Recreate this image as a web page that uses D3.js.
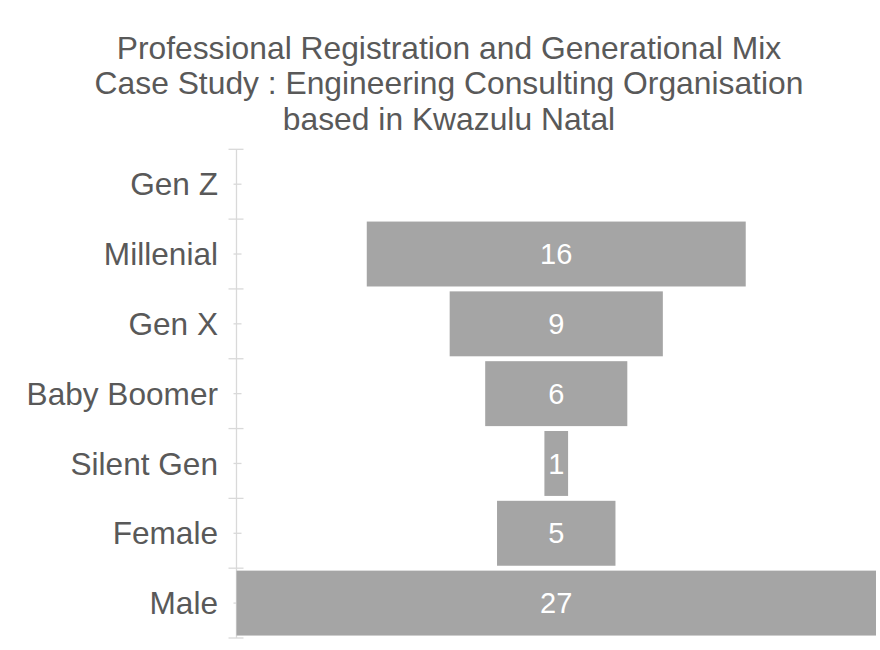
<!DOCTYPE html>
<html>
<head>
<meta charset="utf-8">
<script src="https://cdn.jsdelivr.net/npm/d3@7"></script>
<style>
  html, body { margin: 0; padding: 0; background: #ffffff; }
  svg { display: block; font-family: "Liberation Sans", Arial, sans-serif; }
</style>
</head>
<body>
<svg id="chart" width="880" height="650"></svg>
<script>
const titleLines = [
  "Professional Registration and Generational Mix",
  "Case Study : Engineering Consulting Organisation",
  "based in Kwazulu Natal"
];
const categories = ["Gen Z", "Millenial", "Gen X", "Baby Boomer", "Silent Gen", "Female", "Male"];
const values = [0, 16, 9, 6, 1, 5, 27];

const svg = d3.select("#chart");
const W = 880, H = 650;
svg.append("rect").attr("width", W).attr("height", H).attr("fill", "#ffffff");

const axisX = 236.5;
const plotTop = 149.3, plotBottom = 638;
const maxVal = d3.max(values);
const plotRight = 876;
const centerX = (axisX + plotRight) / 2;

const y = d3.scaleBand().domain(categories).range([plotTop, plotBottom]).paddingInner(0.07).paddingOuter(0.035);
const yOuter = d3.scaleBand().domain(categories).range([plotTop, plotBottom]);
const w = d3.scaleLinear().domain([0, maxVal]).range([0, plotRight - axisX]);

// Title
svg.append("g").selectAll("text").data(titleLines).join("text")
  .attr("x", 449).attr("y", (d, i) => 58.5 + i * 35.5)
  .attr("text-anchor", "middle")
  .attr("fill", "#595959")
  .attr("font-size", "31.8px")
  .text(d => d);

// Axis line & ticks
const axisG = svg.append("g");
axisG.append("line").attr("x1", axisX).attr("x2", axisX)
  .attr("y1", plotTop).attr("y2", plotBottom)
  .attr("stroke", "#d9d9d9").attr("stroke-width", 1.3);
const boundaries = categories.map(c => yOuter(c)).concat([plotBottom]);
axisG.selectAll("line.major").data(boundaries).join("line").attr("class", "major")
  .attr("x1", axisX - 8).attr("x2", axisX + 7)
  .attr("y1", d => d).attr("y2", d => d)
  .attr("stroke", "#d9d9d9").attr("stroke-width", 1.3);
axisG.selectAll("line.minor").data(categories).join("line").attr("class", "minor")
  .attr("x1", axisX - 3).attr("x2", axisX + 5)
  .attr("y1", d => yOuter(d) + yOuter.bandwidth() / 2).attr("y2", d => yOuter(d) + yOuter.bandwidth() / 2)
  .attr("stroke", "#d9d9d9").attr("stroke-width", 1.3);

// Category labels
svg.append("g").selectAll("text").data(categories).join("text")
  .attr("x", 218)
  .attr("y", d => yOuter(d) + yOuter.bandwidth() / 2)
  .attr("dy", "0.35em")
  .attr("text-anchor", "end")
  .attr("fill", "#595959")
  .attr("font-size", "31.6px")
  .text(d => d);

// Bars
const data = categories.map((c, i) => ({ c, v: values[i] }));
svg.append("g").selectAll("rect").data(data.filter(d => d.v > 0)).join("rect")
  .attr("x", d => centerX - w(d.v) / 2)
  .attr("y", d => y(d.c))
  .attr("width", d => w(d.v))
  .attr("height", y.bandwidth())
  .attr("fill", "#a5a5a5");

// Value labels
svg.append("g").selectAll("text").data(data.filter(d => d.v > 0)).join("text")
  .attr("x", centerX)
  .attr("y", d => y(d.c) + y.bandwidth() / 2)
  .attr("dy", "0.35em")
  .attr("text-anchor", "middle")
  .attr("fill", "#ffffff")
  .attr("font-size", "29px")
  .text(d => d.v);
</script>
</body>
</html>
